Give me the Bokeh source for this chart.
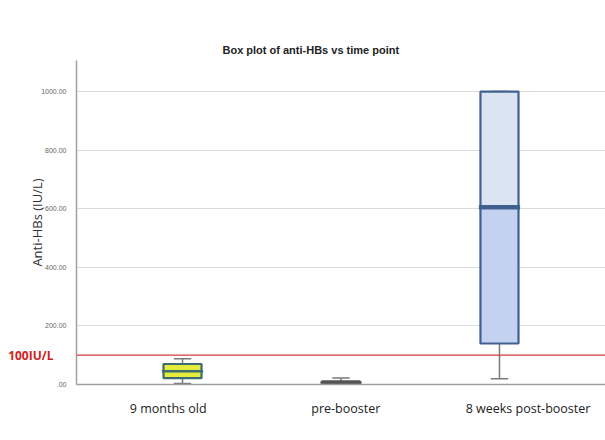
from bokeh.plotting import figure
from bokeh.models import Range1d, FixedTicker, Span, LinearAxis
from bokeh.embed import file_html
from bokeh.resources import INLINE

# ---- data ----
categories = ["9 months old", "pre-booster", "8 weeks post-booster"]
lower = [3, 1, 20]
q1 = [22, 4, 140]
median = [45, 7, 605]
q3 = [70, 11, 1000]
upper = [88, 22, 1000]
threshold = 100
threshold_label = "100IU/L"
y_ticks = [0, 200, 400, 600, 800, 1000]
y_tick_labels = [".00", "200.00", "400.00", "600.00", "800.00", "1000.00"]

# ---- styling ----
fill_upper = ["#e4ec3c", "#a9b0b8", "#dbe4f3"]
fill_lower = ["#e4ec3c", "#a9b0b8", "#c3d2f0"]
box_line = ["#3c6c70", "#555555", "#40618f"]
median_width = [2.5, 2, 4.5]
box_w = 0.24
cap_w = 0.11
label_shift = [-0.09, 0.03, 0.18]

xs = [i + 1 for i in range(len(categories))]

p = figure(width=605, height=440, output_backend="svg", toolbar_location=None,
           x_range=Range1d(0.331, 3.669), y_range=Range1d(0, 1106),
           min_border_left=76, min_border_right=0, min_border_top=60,
           min_border_bottom=56)
p.background_fill_color = "white"
p.border_fill_color = "white"
p.outline_line_color = None

p.title.text = "Box plot of anti-HBs vs time point"
p.title.align = "left"
p.title.offset = 146
p.title.text_font = "Liberation Sans"
p.title.text_font_size = "11px"
p.title.text_font_style = "bold"
p.title.text_color = "#222222"

# grid
p.xgrid.grid_line_color = None
p.ygrid.grid_line_color = "#dcdcdc"
p.ygrid.grid_line_width = 1
p.ygrid.ticker = FixedTicker(ticks=y_ticks)

# y axis
p.yaxis.ticker = FixedTicker(ticks=y_ticks)
p.yaxis.major_label_overrides = {t: l for t, l in zip(y_ticks, y_tick_labels)}
p.yaxis.major_label_text_font = "Liberation Sans"
p.yaxis.major_label_text_font_size = "7px"
p.yaxis.major_label_text_color = "#666666"
p.yaxis.major_label_standoff = 10
p.yaxis.major_tick_out = 0
p.yaxis.major_tick_in = 0
p.yaxis.major_tick_line_color = None
p.yaxis.minor_tick_line_color = None
p.yaxis.axis_line_color = "#a0a0a0"
p.yaxis.axis_line_width = 1.5
p.yaxis.axis_label = "Anti-HBs (IU/L)"
p.yaxis.axis_label_text_font = "Open Sans"
p.yaxis.axis_label_text_font_size = "13px"
p.yaxis.axis_label_text_font_style = "normal"
p.yaxis.axis_label_text_color = "#333333"
p.yaxis.axis_label_standoff = -8

# threshold label as an outer left axis with a single tick
thr_axis = LinearAxis(ticker=FixedTicker(ticks=[threshold]),
                      major_label_overrides={threshold: threshold_label},
                      major_label_text_font="Open Sans",
                      major_label_text_font_size="12px",
                      major_label_text_font_style="bold",
                      major_label_text_color="#d02020",
                      major_label_standoff=-28,
                      major_tick_out=0, major_tick_in=0,
                      axis_line_color=None, major_tick_line_color=None,
                      minor_tick_line_color=None)
p.add_layout(thr_axis, "left")

# x axis
label_pos = [x + s for x, s in zip(xs, label_shift)]
p.xaxis.ticker = FixedTicker(ticks=label_pos)
p.xaxis.major_label_overrides = {t: c for t, c in zip(label_pos, categories)}
p.xaxis.major_label_text_font = "Open Sans"
p.xaxis.major_label_text_font_size = "12.5px"
p.xaxis.major_label_text_color = "#222222"
p.xaxis.major_label_standoff = 15
p.xaxis.major_tick_out = 0
p.xaxis.major_tick_in = 0
p.xaxis.major_tick_line_color = None
p.xaxis.minor_tick_line_color = None
p.xaxis.axis_line_color = "#a0a0a0"
p.xaxis.axis_line_width = 1.5

# threshold line
p.add_layout(Span(location=threshold, dimension="width", line_color="#d83a3a",
                  line_width=1.3))

# whiskers
p.segment(x0=xs, x1=xs, y0=upper, y1=q3, line_color="#7a7a7a", line_width=1.5)
p.segment(x0=xs, x1=xs, y0=lower, y1=q1, line_color="#7a7a7a", line_width=1.5)
p.segment(x0=[x - cap_w / 2 for x in xs], x1=[x + cap_w / 2 for x in xs],
          y0=upper, y1=upper, line_color="#7a7a7a", line_width=1.5)
p.segment(x0=[x - cap_w / 2 for x in xs], x1=[x + cap_w / 2 for x in xs],
          y0=lower, y1=lower, line_color="#7a7a7a", line_width=1.5)

# boxes
p.vbar(x=xs, width=box_w, bottom=median, top=q3, fill_color=fill_upper,
       line_color=None)
p.vbar(x=xs, width=box_w, bottom=q1, top=median, fill_color=fill_lower,
       line_color=None)
p.vbar(x=xs, width=box_w, bottom=q1, top=q3, fill_color=None,
       line_color=box_line, line_width=2.2)
p.segment(x0=[x - box_w / 2 - 0.01 for x in xs],
          x1=[x + box_w / 2 + 0.01 for x in xs],
          y0=median, y1=median, line_color=box_line, line_width=median_width)

open("out.html", "w").write(file_html(p, INLINE))
